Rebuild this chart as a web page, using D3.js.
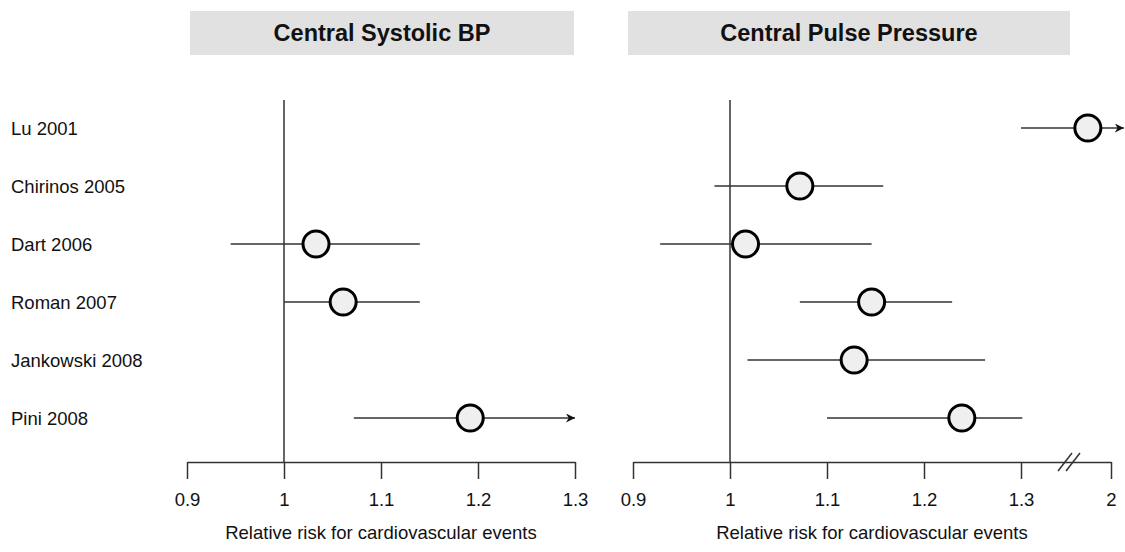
<!DOCTYPE html>
<html>
<head>
<meta charset="utf-8">
<script src="https://cdn.jsdelivr.net/npm/d3@7"></script>
<style>
  html, body { margin: 0; padding: 0; background: #fff; }
  svg { display: block; font-family: "Liberation Sans", Arial, sans-serif; }
  .study-label { font-size: 18.5px; fill: #111; }
  .panel-title { font-size: 23.5px; font-weight: bold; fill: #111; }
  .tick text { font-size: 18.5px; fill: #111; }
  .axis-title { font-size: 18.5px; fill: #111; }
</style>
</head>
<body>
<div id="chart"></div>
<script>
const STUDIES = ["Lu 2001", "Chirinos 2005", "Dart 2006", "Roman 2007", "Jankowski 2008", "Pini 2008"];

// Central systolic BP: [study, lower, estimate, upper, arrow]
const SBP_ROWS = [
  ["Dart 2006",  0.945, 1.033, 1.14,  false],
  ["Roman 2007", 1.0,   1.061, 1.14,  false],
  ["Pini 2008",  1.072, 1.192, 1.30,  true]
];

// Central pulse pressure
const PP_ROWS = [
  ["Lu 2001",        1.30,  1.82,  2.10,  true],
  ["Chirinos 2005",  0.984, 1.072, 1.158, false],
  ["Dart 2006",      0.928, 1.016, 1.146, false],
  ["Roman 2007",     1.072, 1.146, 1.229, false],
  ["Jankowski 2008", 1.018, 1.128, 1.263, false],
  ["Pini 2008",      1.10,  1.239, 1.310, false]
];

const SBP_TICKS = [0.9, 1, 1.1, 1.2, 1.3];
const PP_TICKS  = [0.9, 1, 1.1, 1.2, 1.3, 2];
const X_TITLE = "Relative risk for cardiovascular events";

const W = 1125, H = 552;
const AXIS_Y = 462;

const svg = d3.select("#chart").append("svg")
  .attr("width", W).attr("height", H)
  .attr("viewBox", `0 0 ${W} ${H}`);

svg.append("defs").append("marker")
  .attr("id", "arrow")
  .attr("viewBox", "0 0 10 10")
  .attr("refX", 10).attr("refY", 5)
  .attr("markerWidth", 9).attr("markerHeight", 9)
  .attr("markerUnits", "userSpaceOnUse")
  .attr("orient", "auto")
  .append("path")
  .attr("d", "M0,0 L10,5 L0,10 L3,5 Z")
  .attr("fill", "#111");

const y = d3.scalePoint().domain(STUDIES).range([128, 418]);

svg.append("g").selectAll("text")
  .data(STUDIES)
  .join("text")
  .attr("class", "study-label")
  .attr("x", 11)
  .attr("y", d => y(d))
  .attr("dy", "0.36em")
  .text(d => d);

const xSbp = d3.scaleLinear().domain([0.9, 1.3]).range([187, 575]);
const xPp  = d3.scaleLinear().domain([0.9, 1.3, 2]).range([633, 1021, 1111]);

drawPanel(xSbp, SBP_ROWS, SBP_TICKS, "Central Systolic BP", [190, 574], false);
drawPanel(xPp,  PP_ROWS,  PP_TICKS,  "Central Pulse Pressure", [628, 1070], true);

function drawPanel(x, rows, ticks, title, box, hasBreak) {
  const g = svg.append("g");

  g.append("rect")
    .attr("x", box[0]).attr("y", 11)
    .attr("width", box[1] - box[0]).attr("height", 44)
    .attr("fill", "#e1e1e1");
  g.append("text")
    .attr("class", "panel-title")
    .attr("x", (box[0] + box[1]) / 2).attr("y", 33)
    .attr("dy", "0.36em")
    .attr("text-anchor", "middle")
    .text(title);

  // reference line at 1
  g.append("line")
    .attr("x1", x(1)).attr("x2", x(1))
    .attr("y1", 100).attr("y2", AXIS_Y)
    .attr("stroke", "#333").attr("stroke-width", 1.5);

  const axis = g.append("g")
    .attr("transform", `translate(0,${AXIS_Y})`)
    .call(d3.axisBottom(x).tickValues(ticks).tickFormat(d => String(d))
      .tickSize(17).tickSizeOuter(0).tickPadding(14));
  axis.selectAll("path, line").attr("stroke", "#333").attr("stroke-width", 1.5);

  if (hasBreak) {
    // axis break mark, halfway between 1.3 and 2
    const bx = (x(1.3) + x(2)) / 2 + 3;
    [-4, 4].forEach(off => {
      g.append("line")
        .attr("x1", bx + off - 7).attr("y1", AXIS_Y + 9)
        .attr("x2", bx + off + 7).attr("y2", AXIS_Y - 9)
        .attr("stroke", "#333").attr("stroke-width", 1.5);
    });
  }

  g.append("text")
    .attr("class", "axis-title")
    .attr("x", (x.range()[0] + x.range()[x.range().length - 1]) / 2)
    .attr("y", 532).attr("dy", "0.36em")
    .attr("text-anchor", "middle")
    .text(X_TITLE);

  const r = g.append("g").selectAll("g")
    .data(rows)
    .join("g");

  r.append("line")
    .attr("x1", d => x(d[1])).attr("x2", d => x(d[3]))
    .attr("y1", d => y(d[0])).attr("y2", d => y(d[0]))
    .attr("stroke", "#333").attr("stroke-width", 1.5)
    .attr("marker-end", d => d[4] ? "url(#arrow)" : null);

  r.append("circle")
    .attr("cx", d => x(d[2])).attr("cy", d => y(d[0]))
    .attr("r", 13)
    .attr("fill", "#efefef")
    .attr("stroke", "#000").attr("stroke-width", 3);
}
</script>
</body>
</html>
